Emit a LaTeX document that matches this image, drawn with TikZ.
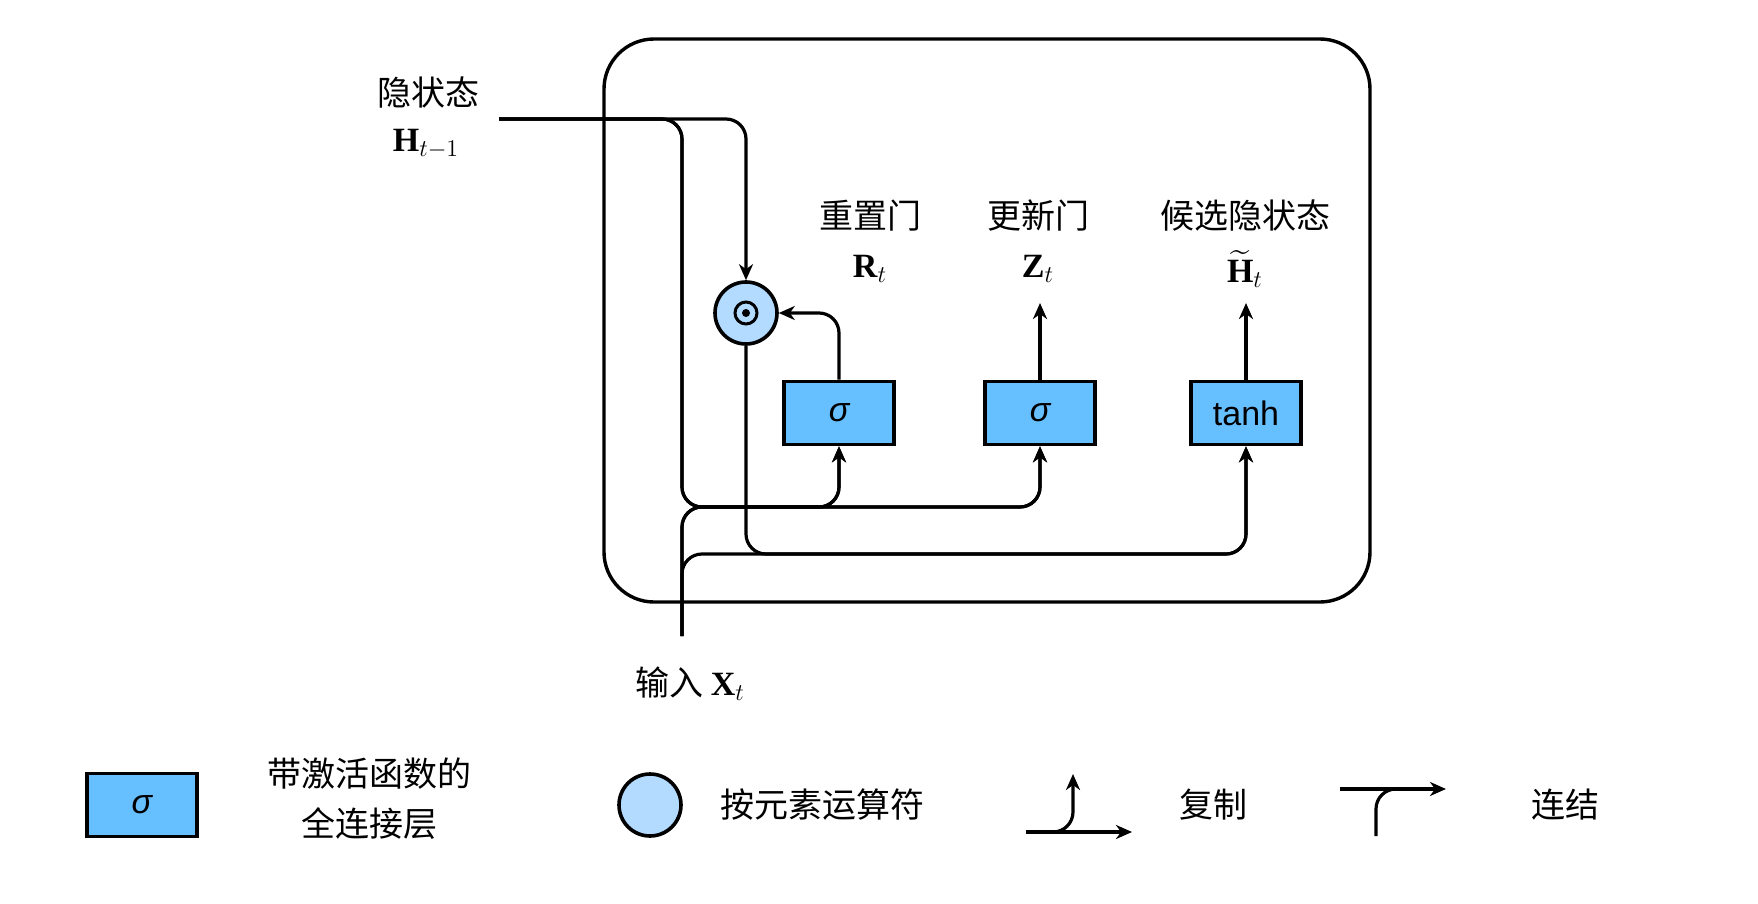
\documentclass[tikz,border=0pt]{standalone}
\usepackage{fontspec}
\usepackage{amsmath}
\setmainfont{Noto Sans CJK SC}
\setmathrm{Liberation Serif}
\setboldmathrm{Liberation Serif}
\newfontfamily\arial{Liberation Sans}
\usetikzlibrary{arrows.meta}
\definecolor{gateblue}{RGB}{102,191,255}
\definecolor{opblue}{RGB}{179,218,255}
\newcommand{\sigmagate}{\smash{\raisebox{-4.4pt}{\itshape σ}}}

\begin{document}
\begin{tikzpicture}[x=0.5pt,y=-0.5pt,
  font=\fontsize{17}{25}\selectfont,
  layer/.style={draw, line width=1.8pt, fill=gateblue, minimum width=55pt,
    minimum height=31.5pt, inner sep=0pt, font=\fontsize{17}{20}\selectfont\arial},
  elemop/.style={circle, draw, line width=1.8pt, fill=opblue, minimum size=31pt, inner sep=0pt},
  flow/.style={line width=1.6pt, rounded corners=10pt},
  arr/.style={flow, -{Stealth[length=8pt,width=7pt,inset=2.5pt]}}]
\useasboundingbox (0,0) rectangle (1758,904);

% cell
\draw [line width=1.7pt, rounded corners=25pt] (604,39) rectangle (1370,602);

\node (hlab) at (428,93) {隐状态};
\node (hsym) at (426,144) {$\mathbf{H}_{t-1}$};
\node (rlab) at (870,216) {重置门};
\node (rsym) at (870,269) {$\mathbf{R}_t$};
\node (zlab) at (1038,216) {更新门};
\node (zsym) at (1038,269) {$\mathbf{Z}_t$};
\node (clab) at (1245,216) {候选隐状态};
\node (csym) at (1245,269) {$\widetilde{\mathbf{H}}_t$};
\node (xlab) at (690,684) {输入 $\mathbf{X}_t$};

\node [layer] (r) at (839,413) {\sigmagate};
\node [layer] (z) at (1040,413) {\sigmagate};
\node [layer] (hc) at (1246,413) {tanh};
\node [elemop] (circ) at (746,313) {};
\draw [line width=1.5pt] (circ) circle (5.5pt);
\fill (circ) circle (2pt);

\coordinate (hin) at (499,119);
\coordinate (xin) at (682,636);
\coordinate (j1) at (682,507);
\coordinate (j2) at (682,554);
\coordinate (j3) at (746,554);
\coordinate (zout) at (1040,303);
\coordinate (cout) at (1246,303);

\draw [arr] (hin) -| (circ.north);
\draw [arr] (hin) -| (j1) -| (r.south);
\draw [arr] (hin) -| (j1) -| (z.south);
\draw [arr] (xin) -- (j1) -| (r.south);
\draw [arr] (xin) -- (j1) -| (z.south);
\draw [arr] (xin) -- (j2) -| (hc.south);
\draw [arr] (circ.south) -- (j3) -| (hc.south);
\draw [arr] (r.north) |- (circ.east);
\draw [arr] (z.north) -- (zout);
\draw [arr] (hc.north) -- (cout);

% legend
\node [layer] (lgate) at (142,805) {\sigmagate};
\node [align=center] (lgtxt) at (369,799) {带激活函数的\\全连接层};
\node [elemop] (lop) at (650,805) {};
\node (loptxt) at (822,805) {按元素运算符};

\coordinate (cpa) at (1026,832);
\coordinate (cpb) at (1132,832);
\coordinate (cpc) at (1073,774);
\draw [arr] (cpa) -- (cpb);
\draw [arr] (cpa) -| (cpc);
\node (cptxt) at (1213,805) {复制};

\coordinate (cta) at (1340,789);
\coordinate (ctb) at (1446,789);
\coordinate (ctc) at (1376,836);
\coordinate (ctd) at (1410,789);
\draw [arr] (cta) -- (ctb);
\draw [flow] (ctc) |- (ctd);
\node (cttxt) at (1565,805) {连结};
\end{tikzpicture}
\end{document}
